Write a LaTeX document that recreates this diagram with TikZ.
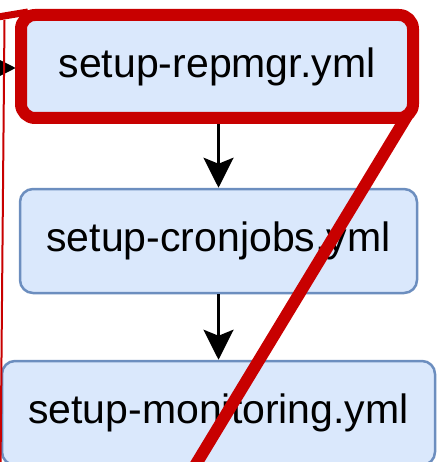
\documentclass[tikz,border=0pt]{standalone}
\usepackage{fontspec}
\setmainfont{Liberation Sans}
\usetikzlibrary{arrows.meta}
\definecolor{boxfill}{HTML}{DAE8FC}
\definecolor{boxline}{HTML}{6C8EBF}
\definecolor{redmark}{HTML}{C80000}
\begin{document}
\begin{tikzpicture}[x=1pt,y=-1pt,
  stepbox/.style={draw=boxline, fill=boxfill, line width=2.5pt,
    rounded corners=13pt, inner sep=0pt, font=\fontsize{41}{49}\selectfont},
  flow/.style={draw=black, line width=3pt,
    -{Stealth[length=30pt,width=30pt,inset=6pt]}},
  hilite/.style={draw=redmark, line width=12pt, line join=round}]
\useasboundingbox (0,0) rectangle (436,462);

% playbook steps
\node[stepbox, minimum width=392pt, minimum height=103pt] (repmgr) at (217,66.5) {setup-repmgr.yml};
\node[stepbox, minimum width=397pt, minimum height=104pt] (cronjobs) at (218.5,241) {setup-cronjobs.yml};
\node[stepbox, minimum width=433pt, minimum height=104pt] (monitoring) at (218.5,413) {setup-monitoring.yml};

% incoming edge from the left and the chain between steps
\coordinate (feed) at (-40,68);
\draw[flow, shorten >=4pt] (feed) -- (feed -| repmgr.west);
\draw[flow] (cronjobs.north |- repmgr.south) -- (cronjobs.north);
\draw[flow] (cronjobs.south) -- (monitoring.north);

% red highlight strokes
\draw[hilite, rounded corners=14pt] (21,15) rectangle (413,118);
\draw[hilite, line cap=butt] (407,116) -- (190,474);
\draw[draw=redmark, line width=7pt] (-2,17) -- (28,12);
\draw[draw=redmark, line width=2pt] (4.5,20) -- (0.5,470);
\end{tikzpicture}
\end{document}
